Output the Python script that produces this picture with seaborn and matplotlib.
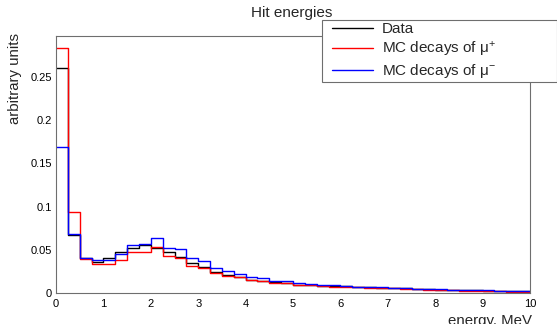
import numpy as np
import pandas as pd
import matplotlib
matplotlib.use("Agg")
import matplotlib.pyplot as plt
from matplotlib.lines import Line2D
from matplotlib.legend_handler import HandlerLine2D
from matplotlib.ticker import MultipleLocator, FuncFormatter
import seaborn as sns

# 40 bins of 0.25 MeV between 0 and 10
bin_width = 0.25
centers = np.arange(40) * bin_width + bin_width / 2

data_vals = [0.260, 0.067, 0.040, 0.0355, 0.040, 0.048, 0.052, 0.0555, 0.0525, 0.047,
             0.042, 0.035, 0.030, 0.024, 0.021, 0.018, 0.0147, 0.0135, 0.013, 0.011,
             0.0097, 0.009, 0.0085, 0.008, 0.008, 0.0073, 0.0066, 0.006, 0.006, 0.0054,
             0.005, 0.0045, 0.004, 0.0037, 0.0033, 0.003, 0.0027, 0.0024, 0.002, 0.0018]
mu_plus = [0.2835, 0.0934, 0.039, 0.033, 0.033, 0.038, 0.047, 0.048, 0.053, 0.0425,
           0.041, 0.0316, 0.029, 0.023, 0.0195, 0.018, 0.0145, 0.0135, 0.011, 0.011,
           0.009, 0.009, 0.0078, 0.0075, 0.007, 0.0065, 0.006, 0.0058, 0.0055, 0.005,
           0.0045, 0.004, 0.0035, 0.0032, 0.0028, 0.0025, 0.0022, 0.002, 0.0017, 0.0015]
mu_minus = [0.169, 0.068, 0.041, 0.0386, 0.038, 0.045, 0.056, 0.057, 0.064, 0.052,
            0.0515, 0.040, 0.037, 0.0285, 0.0255, 0.0224, 0.0185, 0.017, 0.0135, 0.0135,
            0.011, 0.010, 0.0095, 0.0088, 0.008, 0.0075, 0.0073, 0.0066, 0.006, 0.0054,
            0.005, 0.0045, 0.0042, 0.004, 0.0037, 0.0034, 0.003, 0.0025, 0.002, 0.0018]

labels = ["Data", "MC decays of μ$^{+}$", "MC decays of μ$^{-}$"]
colors = ["black", "#ff0000", "#0000ff"]

sns.set_style("white")
plt.rcParams['font.family'] = ['Liberation Sans', 'DejaVu Sans']
plt.rcParams['mathtext.fontset'] = 'custom'
plt.rcParams['mathtext.rm'] = 'Liberation Sans'
plt.rcParams['mathtext.it'] = 'Liberation Sans'

fig = plt.figure(figsize=(5.57, 3.24), dpi=100)
ax = fig.add_axes([56 / 557, 1 - 293 / 324, 474 / 557, 257 / 324])

for vals, c in zip([data_vals, mu_plus, mu_minus], colors):
    df = pd.DataFrame({"energy": centers, "w": vals})
    sns.histplot(data=df, x="energy", weights="w", binwidth=bin_width, binrange=(0, 10),
                 element="step", fill=False, color=c, linewidth=1.0, ax=ax)

ax.set_xlim(0, 10)
ax.set_ylim(0, 0.2975)
ax.set_xlabel("")
ax.set_ylabel("")

for s in ax.spines.values():
    s.set_color("#6e6e6e")
    s.set_linewidth(0.8)

ax.xaxis.set_major_locator(MultipleLocator(1))
ax.xaxis.set_minor_locator(MultipleLocator(0.2))
ax.yaxis.set_major_locator(MultipleLocator(0.05))
ax.yaxis.set_minor_locator(MultipleLocator(0.01))
ax.yaxis.set_major_formatter(FuncFormatter(lambda v, p: "%g" % round(v, 3)))
ax.tick_params(axis="both", which="both", direction="in", colors="#555555",
               labelcolor="black", labelsize=8, width=0.7)
ax.tick_params(axis="y", which="major", length=10.5, pad=3)
ax.tick_params(axis="y", which="minor", length=5)
ax.tick_params(axis="x", which="major", length=6, pad=4)
ax.tick_params(axis="x", which="minor", length=3)

fig.text(292 / 557, 1 - 13 / 324, "Hit energies", ha="center", va="center", fontsize=11)
fig.text(15 / 557, 1 - 33 / 324, "arbitrary units", rotation=90, ha="center", va="top",
         fontsize=10.8)
fig.text(532 / 557, 1 - 325.5 / 324, "energy, MeV", ha="right", va="baseline",
         fontsize=10.8)

fs = 11
handles = [Line2D([], [], color=c, linewidth=1.0) for c in colors]
leg = fig.legend(handles, labels, loc="upper left",
                 bbox_to_anchor=(322 / 557, 1 - 84 / 324, 235 / 557, 64 / 324),
                 mode="expand", fancybox=False, framealpha=1, fontsize=fs,
                 handlelength=3.19, borderaxespad=0, labelspacing=0.22,
                 borderpad=0.144, handletextpad=0.59,
                 handler_map={Line2D: HandlerLine2D(xpad=0.51)})
leg.get_frame().set_edgecolor("#6e6e6e")
leg.get_frame().set_linewidth(0.8)

fig.savefig("out.png", dpi=100)
